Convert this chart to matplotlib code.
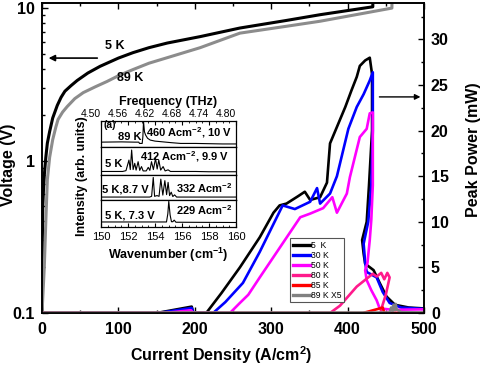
import matplotlib
matplotlib.use("Agg")
import matplotlib.pyplot as plt
from matplotlib.ticker import MultipleLocator, FixedLocator, NullFormatter, FuncFormatter, LogLocator, FixedFormatter

plt.rcParams['font.family'] = ['Liberation Sans', 'DejaVu Sans']
plt.rcParams['font.weight'] = 'bold'
plt.rcParams['axes.labelweight'] = 'bold'
plt.rcParams['mathtext.fontset'] = 'custom'
plt.rcParams['mathtext.rm'] = 'Liberation Sans:bold'
plt.rcParams['mathtext.it'] = 'Liberation Sans:bold:italic'
plt.rcParams['mathtext.bf'] = 'Liberation Sans:bold'
plt.rcParams['mathtext.default'] = 'rm'

# ---------------- Voltage (left axis, log) ----------------
j_v_5K = [0, 0.5, 1, 2, 3, 5, 7, 10, 14, 20, 25, 30, 38, 46, 60, 76, 100, 119, 140, 164, 207, 259, 320, 364, 433, 433.5]
v_5K = [0.1, 0.3, 0.5, 0.65, 0.8, 1.05, 1.3, 1.55, 1.9, 2.3, 2.6, 2.85, 3.1, 3.35, 3.75, 4.15, 4.7, 5.1, 5.5,
        5.9, 6.5, 7.4, 8.3, 9.05, 10.2, 30]
j_v_89K = [0, 3, 5, 7, 10, 14, 18, 21, 27, 33, 43, 54, 70, 85, 100, 119, 140, 164, 207, 259, 320, 364, 458, 459]
v_89K = [0.1, 0.2, 0.4, 0.75, 1.05, 1.37, 1.65, 1.86, 2.08, 2.26, 2.55, 2.79, 3.05, 3.3, 3.6, 3.95, 4.35, 4.73,
         5.5, 6.85, 7.6, 8.2, 10.0, 30]

# ---------------- Peak power (right axis) ----------------
j_p_5K = [0, 150, 160, 196, 198, 215, 235, 259, 285, 303, 311, 320, 335, 344, 351, 364, 373, 377,
          386, 397, 405, 412, 416, 423, 429, 432, 432, 428, 425, 419, 421, 423, 434, 442, 451, 462, 480, 500]
p_5K = [0, 0, 0.15, 0.7, 0.05, 0, 2.2, 5.0, 8.3, 11.0, 11.8, 12.0, 12.8, 13.3, 12.4, 12.7, 14.3, 18.6,
        20.4, 22.6, 24.4, 25.9, 27.1, 27.7, 28.0, 26.2, 20.0, 14.0, 10.0, 8.0, 6.5, 5.4, 4.7, 3.3, 1.8, 0.9, 0.6, 0.5]
j_p_30K = [0, 150, 160, 196, 198, 224, 240, 263, 285, 315, 331, 351, 360, 364, 377, 386, 401, 412,
           421, 429, 433, 433, 431, 427, 421, 423, 425, 438, 446, 455, 470, 500]
p_30K = [0, 0, 0.1, 0.55, 0.05, 0, 1.2, 3.3, 6.7, 11.8, 11.4, 12.2, 13.7, 12.0, 13.1, 15.0, 20.2, 22.6,
         24.0, 25.5, 26.4, 20.0, 14.0, 10.0, 7.6, 5.5, 4.5, 3.9, 2.3, 1.1, 0.6, 0.45]
j_p_50K = [0, 160, 195, 198, 246, 259, 270, 285, 338, 351, 368, 380, 386, 399, 403, 416, 425, 429,
           433, 433, 431, 429, 426, 423, 425, 431, 438, 442, 460, 500]
p_50K = [0, 0, 0.3, 0.02, 0, 1.1, 2.0, 3.9, 10.5, 10.9, 11.5, 12.7, 11.0, 13.1, 14.9, 19.3, 20.2, 21.9,
         22.0, 14.0, 10.2, 8.0, 5.5, 4.7, 3.6, 2.5, 1.4, 0.5, 0.35, 0.4]
j_p_80K = [0, 377, 390, 412, 433, 438, 444, 448, 452, 455, 450, 444, 443, 500]
p_80K = [0, 0, 0.8, 2.9, 4.3, 4.0, 4.4, 3.7, 4.4, 3.9, 2.0, 0.4, 0, 0]
j_p_85K = [0, 420, 429, 442, 446, 448, 500]
p_85K = [0, 0, 0.2, 0.5, 0.6, 0, 0]
j_p_89K = [0, 455, 457, 459, 460, 462, 463, 464, 466, 470, 500]
p_89K = [0.05, 0.05, 0.6, 0.2, 0.9, 0.3, 1.0, 0.4, 0.3, 0.1, 0.05]

power_series = [
    (j_p_5K, p_5K, '#000000', '5  K'),
    (j_p_30K, p_30K, '#0000FF', '30 K'),
    (j_p_50K, p_50K, '#FF00FF', '50 K'),
    (j_p_80K, p_80K, '#FF1A8C', '80 K'),
    (j_p_85K, p_85K, '#FF0000', '85 K'),
    (j_p_89K, p_89K, '#808080', '89 K X5'),
]

# ---------------- Inset spectra ----------------
wn_89K_460 = [150.0, 151.5, 152.5, 152.8, 152.85, 153.05, 153.1, 153.15, 153.22, 153.3, 153.45, 153.65,
              154.0, 154.6, 155.2, 155.9, 157.0, 158.0, 159.0, 160.0]
int_89K_460 = [0.20, 0.21, 0.20, 0.20, 0.15, 0.15, 0.40, 1.00, 0.60, 0.48, 0.35, 0.28,
               0.24, 0.21, 0.18, 0.15, 0.15, 0.14, 0.13, 0.13]
wn_5K_412 = [150.0, 151.6, 151.85, 152.07, 152.17, 152.27, 152.38, 152.5, 152.6, 152.75, 152.87, 153.0,
             153.12, 153.35, 153.5, 153.62, 153.74, 153.88, 154.04, 154.16, 154.28, 154.42, 154.6, 154.75,
             154.97, 155.15, 156.0, 157.0, 158.0, 160.0]
int_5K_412 = [0.13, 0.13, 0.16, 0.55, 0.2, 0.92, 0.2, 0.43, 0.18, 0.49, 0.17, 0.31,
              0.15, 0.15, 0.28, 0.17, 0.49, 0.2, 0.61, 0.22, 0.55, 0.18, 0.31, 0.15,
              0.19, 0.13, 0.13, 0.13, 0.12, 0.12]
wn_5K_332 = [150.0, 153.6, 153.75, 153.87, 153.97, 154.15, 154.3, 154.43, 154.58, 154.73, 154.86, 154.97,
             155.08, 155.2, 155.32, 155.45, 155.6, 160.0]
int_5K_332 = [0.12, 0.12, 0.15, 0.92, 0.15, 0.18, 0.15, 0.85, 0.2, 0.79, 0.22, 0.72,
              0.18, 0.32, 0.14, 0.21, 0.12, 0.12]
wn_5K_229 = [150.0, 154.85, 154.95, 155.02, 155.12, 155.22, 155.32, 155.42, 155.55, 160.0]
int_5K_229 = [0.19, 0.19, 0.5, 0.97, 0.45, 0.2, 0.2, 0.26, 0.18, 0.17]

wn_ticks = [150, 152, 154, 156, 158, 160]
thz_labels = ['4.50', '4.56', '4.62', '4.68', '4.74', '4.80']

W, H = 484, 367
fig = plt.figure(figsize=(W / 100, H / 100), dpi=100)

def fx(px):
    return px / W

def fy(py):
    return 1 - py / H

ax = fig.add_axes([fx(42), fy(313), fx(424) - fx(42), fy(3) - fy(313)])
ax.set_xlim(0, 500)
ax.set_yscale('log')
ax.set_ylim(0.1, 10.8)
ax.plot(j_v_5K, v_5K, color='black', lw=2.2, solid_joinstyle='round')
ax.plot(j_v_89K, v_89K, color='#8c8c8c', lw=2.2, solid_joinstyle='round')
ax.yaxis.set_major_locator(FixedLocator([0.1, 1, 10]))
ax.yaxis.set_major_formatter(FuncFormatter(lambda v, p: '%g' % v))
ax.yaxis.set_minor_locator(LogLocator(base=10, subs=range(2, 10)))
ax.yaxis.set_minor_formatter(NullFormatter())
ax.xaxis.set_major_locator(MultipleLocator(100))
ax.xaxis.set_minor_locator(MultipleLocator(50))
ax.tick_params(which='both', direction='in', top=True, labelsize=11.5, width=1.0)
ax.tick_params(which='major', length=4.5, pad=5)
ax.tick_params(axis='x', which='major', pad=6.5)
ax.tick_params(which='minor', length=2.5)
for s in ax.spines.values():
    s.set_linewidth(1.2)
ax.set_xlabel('Current Density (A/cm$^2$)', fontsize=11.5)
ax.xaxis.set_label_coords((221 - 42) / 382, -(344 - 313) / 310)
ax.set_ylabel('Voltage (V)', fontsize=11.5)
ax.yaxis.set_label_coords((16 - 42) / 382, (313 - 165) / 310)

ax.annotate('', xy=(5, 4.7), xytext=(76, 4.7),
            arrowprops=dict(arrowstyle='-|>', color='black', lw=1.2, mutation_scale=9))
ax.text(95, 5.6, '5 K', fontsize=9, ha='center', va='center')
ax.text(115, 3.5, '89 K', fontsize=9, ha='center', va='center')

ax2 = ax.twinx()
ax2.set_ylim(0, 34)
for j, p, c, lab in power_series:
    ax2.plot(j, p, color=c, lw=1.9, label=lab, solid_joinstyle='round')
ax2.yaxis.set_major_locator(MultipleLocator(5))
ax2.yaxis.set_minor_locator(MultipleLocator(2.5))
ax2.tick_params(which='both', direction='in', labelsize=11.5, width=1.0)
ax2.tick_params(which='major', length=4.5, pad=5)
ax2.tick_params(which='minor', length=2.5)
for s in ax2.spines.values():
    s.set_linewidth(1.2)
ax2.set_ylabel('Peak Power (mW)', fontsize=11.5, rotation=90)
ax2.yaxis.set_label_coords((466 - 42) / 382, (313 - 150) / 310)
ax2.annotate('', xy=(499, 23.7), xytext=(438, 23.7),
             arrowprops=dict(arrowstyle='-|>', color='black', lw=1.0, mutation_scale=8))

leg = ax2.legend(loc='upper left', bbox_to_anchor=((290 - 42) / 382, (313 - 238) / 310),
                 borderaxespad=0, prop={'weight': 'normal', 'size': 6.2}, handlelength=2.0,
                 handletextpad=0.1, labelspacing=0.12, borderpad=0.3, fancybox=False,
                 framealpha=1, edgecolor='#555555')
leg.get_frame().set_linewidth(0.8)
for line in leg.get_lines():
    line.set_linewidth(2.4)

# ---------------- Inset ----------------
panel_px = [(121, 147.3), (147.3, 175), (175, 200), (200, 227)]
spectra = [(wn_89K_460, int_89K_460), (wn_5K_412, int_5K_412),
           (wn_5K_332, int_5K_332), (wn_5K_229, int_5K_229)]
left, right = 101, 236
inset_axes = []
for (top, bot), (wn, it) in zip(panel_px, spectra):
    ia = fig.add_axes([fx(left), fy(bot), fx(right) - fx(left), fy(top) - fy(bot)])
    ia.plot(wn, it, color='black', lw=0.8)
    ia.set_xlim(150, 160)
    ia.set_ylim(0, 1.02)
    ia.set_yticks([])
    ia.xaxis.set_major_locator(FixedLocator(wn_ticks))
    ia.xaxis.set_minor_locator(MultipleLocator(0.5))
    ia.tick_params(axis='x', which='both', direction='in', labelbottom=False, top=False, bottom=False)
    for s in ia.spines.values():
        s.set_linewidth(0.9)
    inset_axes.append(ia)

bottom_ax = inset_axes[-1]
bottom_ax.tick_params(axis='x', which='both', bottom=True, labelbottom=True, labelsize=8, pad=3.5)
bottom_ax.tick_params(axis='x', which='major', length=3)
bottom_ax.tick_params(axis='x', which='minor', length=1.5)
for lbl in bottom_ax.get_xticklabels():
    lbl.set_fontweight('normal')
bottom_ax.set_xlabel('Wavenumber (cm$^{-1}$)', fontsize=9, labelpad=3)

top_ax = inset_axes[0]
top_ax.tick_params(axis='x', which='both', top=True, labeltop=True, labelsize=7.5, pad=1.5)
top_ax.tick_params(axis='x', which='major', length=3)
top_ax.tick_params(axis='x', which='minor', length=1.5)
top_ax.xaxis.set_major_formatter(FixedFormatter(thz_labels))
for lbl in top_ax.get_xticklabels():
    lbl.set_fontweight('normal')
    lbl.set_horizontalalignment('right')
top_ax.xaxis.set_label_position('top')
top_ax.set_xlabel('Frequency (THz)', fontsize=9, labelpad=3)

fig.text(fx(82), fy(176), 'Intensity (arb. units)', rotation=90, fontsize=9,
         ha='center', va='center')

inset_texts = [
    (103, 125, '(a)', 7.5),
    (118, 137, '89 K', 8),
    (146, 132.5, '460 Acm$^{-2}$, 10 V', 8),
    (105, 164, '5 K', 8),
    (140, 157, '412 Acm$^{-2}$, 9.9 V', 8),
    (101.5, 190, '5 K,8.7 V', 8),
    (176.5, 188.5, '332 Acm$^{-2}$', 8),
    (105, 216, '5 K, 7.3 V', 8),
    (176.5, 210.5, '229 Acm$^{-2}$', 8),
]
for x, y, t, fs in inset_texts:
    fig.text(fx(x), fy(y), t, fontsize=fs, ha='left', va='center')

fig.savefig('out.png', dpi=100)
